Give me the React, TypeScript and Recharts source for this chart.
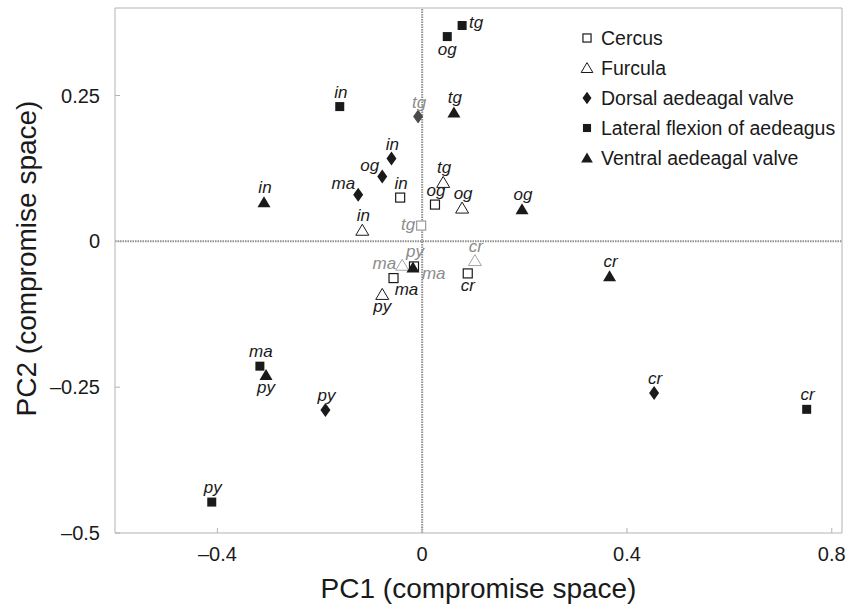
import React from "react";
import { ScatterChart, Scatter, XAxis, YAxis, ReferenceLine, Legend, Label } from "recharts";

// point labels, same order in every series array below
const CATEGORIES = ["in", "og", "tg", "ma", "cr", "py"];

const cercusX = [-0.043, 0.025, -0.002, -0.056, 0.089, -0.016];
const cercusY = [0.075, 0.063, 0.027, -0.063, -0.055, -0.043];

const furculaX = [-0.117, 0.078, 0.041, -0.039, 0.103, -0.078];
const furculaY = [0.019, 0.057, 0.101, -0.041, -0.033, -0.091];

const dorsalX = [-0.06, -0.078, -0.008, -0.125, 0.453, -0.189];
const dorsalY = [0.142, 0.111, 0.214, 0.08, -0.26, -0.289];

const lateralX = [-0.161, 0.049, 0.078, -0.317, 0.751, -0.411];
const lateralY = [0.231, 0.351, 0.37, -0.214, -0.288, -0.447];

const ventralX = [-0.309, 0.195, 0.062, -0.018, 0.366, -0.305];
const ventralY = [0.067, 0.055, 0.221, -0.045, -0.06, -0.229];

const X_TICKS = [-0.4, 0, 0.4, 0.8];
const Y_TICKS = [-0.5, -0.25, 0, 0.25];

const FONT = "'Liberation Sans', Arial, Helvetica, sans-serif";
const INK = "#1a1a1a";
const FRAME = "#b3b3b3";
const FADED_INK = "#8c8c8c";

type Kind = "openSquare" | "openTriangle" | "diamond" | "square" | "triangle";

const SERIES: { key: string; name: string; kind: Kind; xs: number[]; ys: number[] }[] = [
  { key: "cercus", name: "Cercus", kind: "openSquare", xs: cercusX, ys: cercusY },
  { key: "furcula", name: "Furcula", kind: "openTriangle", xs: furculaX, ys: furculaY },
  { key: "dorsal", name: "Dorsal aedeagal valve", kind: "diamond", xs: dorsalX, ys: dorsalY },
  { key: "lateral", name: "Lateral flexion of aedeagus", kind: "square", xs: lateralX, ys: lateralY },
  { key: "ventral", name: "Ventral aedeagal valve", kind: "triangle", xs: ventralX, ys: ventralY },
];

// where the italic label sits relative to its marker (default: above)
const LABEL_SPOT: Record<string, string> = {
  "cercus:tg": "left",
  "cercus:ma": "belowRight",
  "cercus:cr": "below",
  "furcula:ma": "left",
  "furcula:py": "below",
  "dorsal:og": "upLeft",
  "dorsal:ma": "upLeft",
  "lateral:tg": "right",
  "lateral:og": "below",
  "ventral:py": "below",
  "ventral:ma": "rightLow",
};

// greyed-out points in the original figure
const FADED_LABELS = new Set(["cercus:tg", "cercus:py", "furcula:ma", "furcula:cr", "dorsal:tg", "ventral:ma"]);
const FADED_MARKERS: Record<string, string> = {
  "cercus:tg": "#9a9a9a",
  "furcula:ma": "#a5a5a5",
  "furcula:cr": "#a5a5a5",
  "dorsal:tg": "#4a4a4a",
};

function fmt(v: number) {
  return v < 0 ? `\u2013${Math.abs(v)}` : `${v}`;
}

function Marker({ kind, cx, cy, color, small }: { kind: Kind; cx: number; cy: number; color: string; small?: boolean }) {
  const s = small ? 0.9 : 1;
  switch (kind) {
    case "openSquare":
      return <rect x={cx - 4.5 * s} y={cy - 4.5 * s} width={9 * s} height={9 * s} fill="#fff" stroke={color} strokeWidth={1.2} />;
    case "square":
      return <rect x={cx - 4.5 * s} y={cy - 4.5 * s} width={9 * s} height={9 * s} fill={color} />;
    case "diamond":
      return (
        <polygon
          points={`${cx},${cy - 7 * s} ${cx + 5 * s},${cy} ${cx},${cy + 7 * s} ${cx - 5 * s},${cy}`}
          fill={color}
        />
      );
    case "triangle":
      return (
        <polygon
          points={`${cx},${cy - 6 * s} ${cx + 6.5 * s},${cy + 5 * s} ${cx - 6.5 * s},${cy + 5 * s}`}
          fill={color}
        />
      );
    default:
      return (
        <polygon
          points={`${cx},${cy - 6 * s} ${cx + 6.5 * s},${cy + 5 * s} ${cx - 6.5 * s},${cy + 5 * s}`}
          fill="#fff"
          stroke={color}
          strokeWidth={1}
        />
      );
  }
}

function labelPos(spot: string, cx: number, cy: number) {
  switch (spot) {
    case "below":
      return { x: cx, y: cy + 18, anchor: "middle" };
    case "belowRight":
      return { x: cx + 13, y: cy + 17, anchor: "middle" };
    case "left":
      return { x: cx - 6, y: cy + 4, anchor: "end" };
    case "right":
      return { x: cx + 7, y: cy + 2, anchor: "start" };
    case "rightLow":
      return { x: cx + 9, y: cy + 11, anchor: "start" };
    case "upLeft":
      return { x: cx - 3, y: cy - 6, anchor: "end" };
    default:
      return { x: cx + 1, y: cy - 9, anchor: "middle" };
  }
}

function makeShape(seriesKey: string, kind: Kind) {
  return (props: any) => {
    const { cx, cy, payload } = props;
    if (cx == null || cy == null) return <g />;
    const id = `${seriesKey}:${payload.cat}`;
    const pos = labelPos(LABEL_SPOT[id] ?? "above", cx, cy);
    return (
      <g>
        <Marker kind={kind} cx={cx} cy={cy} color={FADED_MARKERS[id] ?? INK} />
        <text
          x={pos.x}
          y={pos.y}
          textAnchor={pos.anchor as any}
          fontFamily={FONT}
          fontStyle="italic"
          fontSize={17}
          fill={FADED_LABELS.has(id) ? FADED_INK : INK}
        >
          {payload.cat}
        </text>
      </g>
    );
  };
}

function LegendBox() {
  return (
    <div style={{ fontFamily: FONT, fontSize: 19.5, color: INK }}>
      {SERIES.map((s) => (
        <div key={s.key} style={{ display: "flex", alignItems: "center", height: 30, whiteSpace: "nowrap" }}>
          <svg width={16} height={16} style={{ marginRight: 6 }}>
            <Marker kind={s.kind} cx={8} cy={8} color={INK} small />
          </svg>
          {s.name}
        </div>
      ))}
    </div>
  );
}

export default function App() {
  return (
    <div style={{ width: 853, height: 606, background: "#fff" }}>
      <style>{"body{margin:0;background:#fff}"}</style>
      <ScatterChart width={853} height={606} margin={{ top: 7, right: 10, bottom: 0, left: 0 }}>
        <XAxis
          xAxisId="b"
          type="number"
          dataKey="x"
          domain={[-0.6, 0.82]}
          ticks={X_TICKS}
          allowDataOverflow
          height={73}
          tickSize={-5}
          tickMargin={19}
          tickFormatter={fmt}
          axisLine={{ stroke: FRAME }}
          tickLine={{ stroke: FRAME }}
          tick={{ fill: INK, fontSize: 20, fontFamily: FONT }}
        >
          <Label
            content={(p: any) => {
              const vb = p.viewBox;
              return (
                <text x={vb.x + vb.width / 2} y={vb.y + 65} textAnchor="middle" fontFamily={FONT} fontSize={28} fill={INK}>
                  PC1 (compromise space)
                </text>
              );
            }}
          />
        </XAxis>
        <XAxis
          xAxisId="t"
          orientation="top"
          type="number"
          dataKey="x"
          domain={[-0.6, 0.82]}
          ticks={X_TICKS}
          allowDataOverflow
          height={1}
          tickSize={-5}
          tick={false}
          axisLine={{ stroke: FRAME }}
          tickLine={{ stroke: FRAME }}
        />
        <YAxis
          yAxisId="l"
          type="number"
          dataKey="y"
          domain={[-0.5, 0.4]}
          ticks={Y_TICKS}
          allowDataOverflow
          width={115}
          tickSize={-5}
          tickMargin={20}
          tickFormatter={fmt}
          axisLine={{ stroke: FRAME }}
          tickLine={{ stroke: FRAME }}
          tick={{ fill: INK, fontSize: 20, fontFamily: FONT }}
        >
          <Label
            content={(p: any) => {
              const vb = p.viewBox;
              const x = vb.x + 36;
              const y = vb.y + vb.height / 2 - 12;
              return (
                <text
                  x={x}
                  y={y}
                  transform={`rotate(-90 ${x} ${y})`}
                  textAnchor="middle"
                  fontFamily={FONT}
                  fontSize={28}
                  fill={INK}
                >
                  PC2 (compromise space)
                </text>
              );
            }}
          />
        </YAxis>
        <YAxis
          yAxisId="r"
          orientation="right"
          type="number"
          dataKey="y"
          domain={[-0.5, 0.4]}
          ticks={Y_TICKS}
          allowDataOverflow
          width={1}
          tickSize={-5}
          tick={false}
          axisLine={{ stroke: FRAME }}
          tickLine={{ stroke: FRAME }}
        />
        <ReferenceLine xAxisId="b" yAxisId="l" x={0} stroke="#8f8f8f" strokeWidth={2} strokeDasharray="1.5 1" />
        <ReferenceLine xAxisId="b" yAxisId="l" y={0} stroke="#8f8f8f" strokeWidth={2} strokeDasharray="1.5 1" />
        {SERIES.map((s) => (
          <Scatter
            key={s.key}
            name={s.name}
            xAxisId="b"
            yAxisId="l"
            data={CATEGORIES.map((c, i) => ({ x: s.xs[i], y: s.ys[i], cat: c }))}
            shape={makeShape(s.key, s.kind)}
            isAnimationActive={false}
          />
        ))}
        <Legend
          layout="vertical"
          align="center"
          verticalAlign="middle"
          content={() => <LegendBox />}
          wrapperStyle={{ top: 23, left: 579, width: 270 }}
        />
      </ScatterChart>
    </div>
  );
}
